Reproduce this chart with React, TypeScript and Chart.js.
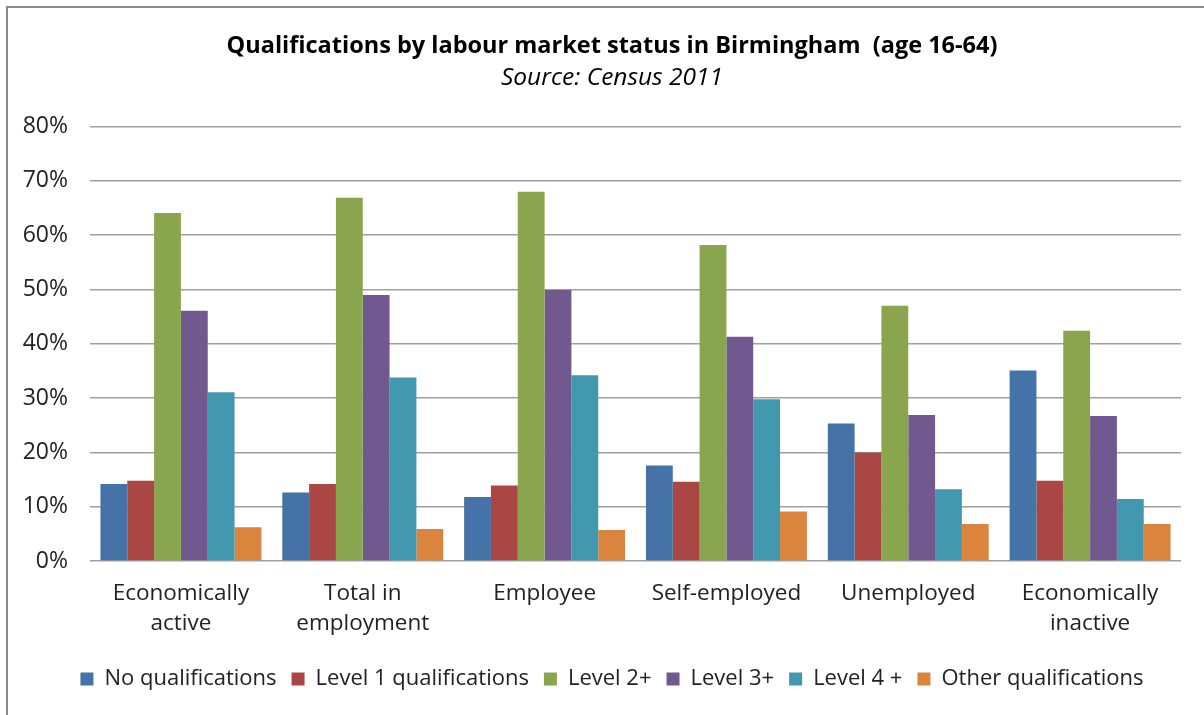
import React, { useEffect, useRef } from "react";
import { Chart, registerables } from "chart.js";

Chart.register(...registerables);

const categories: string[][] = [
  ["Economically", "active"],
  ["Total in", "employment"],
  ["Employee"],
  ["Self-employed"],
  ["Unemployed"],
  ["Economically", "inactive"],
];

const seriesNames = [
  "No qualifications",
  "Level 1 qualifications",
  "Level 2+",
  "Level 3+",
  "Level 4 +",
  "Other qualifications",
];

const noQualifications = [14.2, 12.6, 11.8, 17.6, 25.3, 35.1];
const level1 = [14.8, 14.2, 13.9, 14.6, 20.0, 14.8];
const level2 = [64.1, 66.9, 68.0, 58.2, 47.0, 42.4];
const level3 = [46.1, 49.0, 49.9, 41.3, 26.9, 26.7];
const level4 = [31.1, 33.8, 34.2, 29.8, 13.2, 11.4];
const otherQualifications = [6.2, 5.9, 5.7, 9.1, 6.8, 6.8];

const colors = ["#4572A7", "#AA4643", "#89A54E", "#71588F", "#4198AF", "#DB843D"];

const yTicks = [0, 10, 20, 30, 40, 50, 60, 70, 80];

const FONT = "'Open Sans', Lato, sans-serif";

export default function App() {
  const ref = useRef<HTMLCanvasElement | null>(null);

  useEffect(() => {
    if (!ref.current) return;
    const values = [noQualifications, level1, level2, level3, level4, otherQualifications];
    const chart = new Chart(ref.current, {
      type: "bar",
      data: {
        labels: categories,
        datasets: values.map((v, i) => ({
          label: seriesNames[i],
          data: v,
          backgroundColor: colors[i],
          borderWidth: 0,
          categoryPercentage: 0.885,
          barPercentage: 1,
        })),
      },
      options: {
        animation: false,
        responsive: true,
        maintainAspectRatio: false,
        layout: { padding: { left: 20, right: 0, top: 0, bottom: 15 } },
        plugins: {
          title: {
            display: true,
            text: "Qualifications by labour market status in Birmingham  (age 16-64)",
            color: "#000",
            font: { family: FONT, size: 23.5, weight: "bold" },
            padding: { top: 32, bottom: 3 },
          },
          subtitle: {
            display: true,
            text: "Source: Census 2011",
            color: "#000",
            font: { family: FONT, size: 24.5, style: "italic" },
            padding: { top: 0, bottom: 34 },
          },
          legend: {
            position: "bottom",
            labels: {
              boxWidth: 13,
              boxHeight: 13,
              padding: 15,
              color: "#222",
              font: { family: FONT, size: 22 },
            },
          },
          tooltip: { enabled: false },
        },
        scales: {
          x: {
            grid: { display: false, drawTicks: false },
            border: { display: false },
            ticks: {
              color: "#222",
              font: { family: FONT, size: 22.5, lineHeight: 1.333 },
              padding: 18,
              maxRotation: 0,
              autoSkip: false,
            },
            afterFit: (s: any) => {
              s.height = 92;
            },
          },
          y: {
            min: 0,
            max: 80,
            afterBuildTicks: (s: any) => {
              s.ticks = yTicks.map((v) => ({ value: v }));
            },
            grid: { color: "#a0a0a0", lineWidth: 1.5, drawTicks: false },
            border: { display: false },
            ticks: {
              color: "#222",
              font: { family: FONT, size: 23 },
              padding: 22,
              callback: (v: any) => v + "%",
            },
            afterFit: (s: any) => {
              s.width = 70;
            },
          },
          yRight: {
            position: "right",
            min: 0,
            max: 80,
            grid: { display: false, drawTicks: false },
            border: { display: false },
            ticks: { display: false },
            afterFit: (s: any) => {
              s.width = 23;
            },
          },
        },
      },
    });
    return () => chart.destroy();
  }, []);

  return (
    <div
      style={{
        position: "fixed",
        left: 0,
        top: 0,
        width: 1204,
        height: 715,
        overflow: "hidden",
        background: "#fff",
      }}
    >
      <div
        style={{
          position: "absolute",
          left: 6,
          top: 6,
          width: 1220,
          height: 740,
          border: "2px solid #8a8a8a",
          boxSizing: "border-box",
        }}
      />
      <div style={{ position: "absolute", left: 0, top: 0, width: 1204, height: 715 }}>
        <canvas ref={ref} />
      </div>
    </div>
  );
}
